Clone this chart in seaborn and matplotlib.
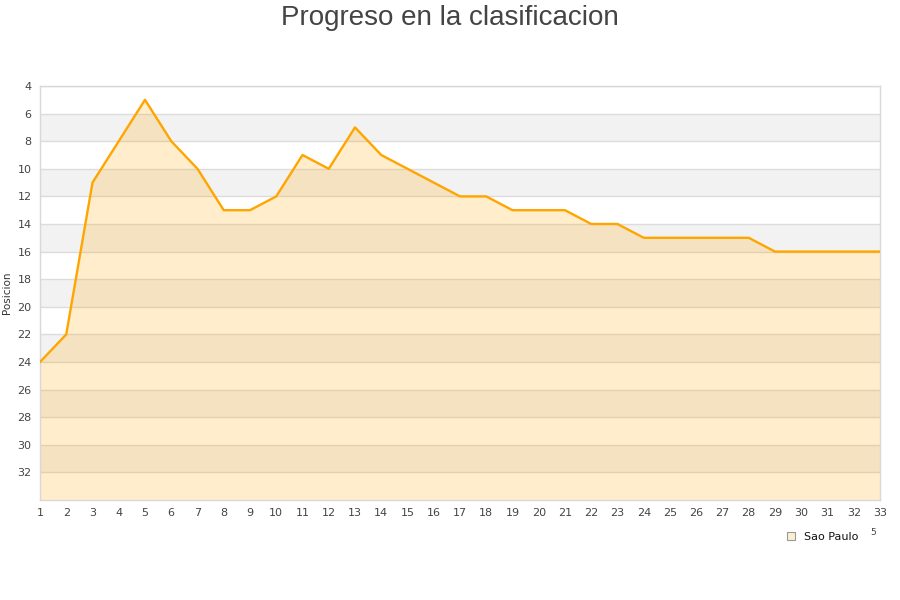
import matplotlib
matplotlib.use("Agg")
import matplotlib.pyplot as plt
import seaborn as sns
import pandas as pd
from matplotlib.patches import Patch

rounds = list(range(1, 34))
positions = [24, 22, 11, 8, 5, 8, 10, 13, 13, 12, 9, 10, 7, 9, 10, 11, 12, 12,
             13, 13, 13, 14, 14, 15, 15, 15, 15, 15, 16, 16, 16, 16, 16]
team = "Sao Paulo"
title = "Progreso en la clasificacion"
ylabel = "Posicion"
yticks = list(range(4, 33, 2))

sns.set_theme(style="white")
plt.rcParams['font.family'] = ['DejaVu Sans']

df = pd.DataFrame({"Jornada": rounds, "Posicion": positions})

fig = plt.figure(figsize=(9, 6), dpi=100)
ax = fig.add_axes([40/900, 100/600, 840/900, 414/600])

# alternating bands
for y0 in range(6, 34, 4):
    ax.axhspan(y0, y0 + 2, color="#f2f2f2", zorder=0, lw=0)
for y in yticks:
    ax.axhline(y, color="#dcdcdc", lw=1, zorder=1)

ax.fill_between(df["Jornada"], df["Posicion"], 34, color="#FFA500", alpha=0.2, lw=0, zorder=2)
sns.lineplot(data=df, x="Jornada", y="Posicion", ax=ax, color="#FFA500", lw=1.7, zorder=3)

ax.set_xlim(1, 33)
ax.set_ylim(34, 4)
ax.set_xticks(rounds)
ax.set_yticks(yticks)
ax.tick_params(axis="both", labelsize=8, labelcolor="#444444", length=0, pad=6)
ax.set_xlabel("")
ax.set_ylabel(ylabel, fontsize=7.5, color="#333333", labelpad=4)
for s in ax.spines.values():
    s.set_color("#d8d8d8")
    s.set_linewidth(1)

fig.text(0.5, 0.97, title, ha="center", va="center", fontsize=20, color="#444444",
         family=["Liberation Sans", "DejaVu Sans"])

handle = Patch(facecolor="#fcefcf", edgecolor="#999999", lw=0.8)
fig.legend([handle], [team], loc="center", bbox_to_anchor=(0.914, 0.105), frameon=False,
           fontsize=8, handlelength=0.8, handleheight=0.8, handletextpad=0.8,
           labelcolor="#111111")
fig.text(0.970, 0.113, "5", fontsize=6.5, color="#444444", ha="center", va="center")

fig.savefig("out.png", dpi=100)
